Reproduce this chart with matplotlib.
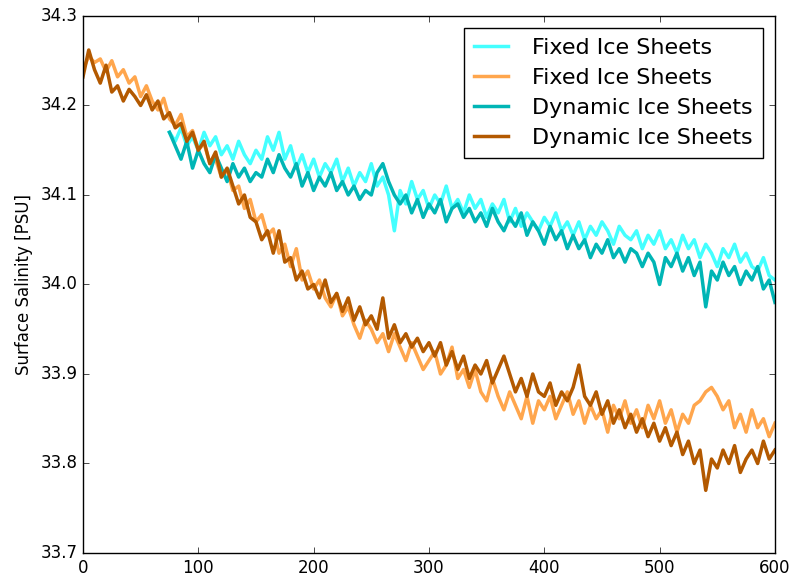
import numpy as np
import matplotlib
matplotlib.use("Agg")
import matplotlib.pyplot as plt

plt.style.use('classic')

# model years (5-year samples)
years_full = np.arange(0, 601, 5)
years_dyn = np.arange(75, 601, 5)

# Fixed Ice Sheets, cyan run (starts at year 75)
fixed_cyan = [
    34.170, 34.160, 34.175, 34.155, 34.165, 34.150, 34.170, 34.155, 34.165, 34.145,
    34.155, 34.140, 34.160, 34.145, 34.135, 34.150, 34.140, 34.165, 34.150, 34.170,
    34.140, 34.155, 34.130, 34.145, 34.125, 34.140, 34.120, 34.135, 34.125, 34.140,
    34.115, 34.130, 34.110, 34.125, 34.115, 34.135, 34.110, 34.120, 34.100, 34.060,
    34.105, 34.090, 34.115, 34.095, 34.105, 34.085, 34.100, 34.090, 34.110, 34.085,
    34.095, 34.080, 34.100, 34.085, 34.095, 34.075, 34.090, 34.080, 34.095, 34.070,
    34.085, 34.065, 34.080, 34.070, 34.060, 34.075, 34.065, 34.080, 34.060, 34.070,
    34.055, 34.070, 34.050, 34.065, 34.055, 34.070, 34.060, 34.045, 34.065, 34.055,
    34.050, 34.060, 34.040, 34.055, 34.045, 34.060, 34.040, 34.050, 34.035, 34.055,
    34.040, 34.050, 34.030, 34.045, 34.035, 34.020, 34.040, 34.030, 34.045, 34.025,
    34.035, 34.020, 34.015, 34.030, 34.010, 34.005,
]

# Fixed Ice Sheets, orange run
fixed_orange = [
    34.240, 34.255, 34.248, 34.252, 34.238, 34.250, 34.232, 34.240, 34.225, 34.232,
    34.210, 34.222, 34.205, 34.195, 34.208, 34.185, 34.178, 34.190, 34.165, 34.172,
    34.150, 34.158, 34.135, 34.140, 34.120, 34.128, 34.105, 34.110, 34.085, 34.095,
    34.070, 34.078, 34.055, 34.062, 34.035, 34.045, 34.020, 34.040, 34.005, 34.015,
    33.995, 34.005, 33.985, 33.975, 33.990, 33.965, 33.975, 33.955, 33.940, 33.960,
    33.950, 33.935, 33.945, 33.925, 33.945, 33.930, 33.915, 33.935, 33.920, 33.905,
    33.915, 33.925, 33.900, 33.910, 33.930, 33.895, 33.905, 33.885, 33.905, 33.880,
    33.870, 33.895, 33.875, 33.860, 33.880, 33.865, 33.850, 33.875, 33.845, 33.870,
    33.860, 33.875, 33.850, 33.865, 33.880, 33.855, 33.870, 33.845, 33.865, 33.850,
    33.860, 33.835, 33.865, 33.850, 33.870, 33.845, 33.860, 33.840, 33.865, 33.850,
    33.870, 33.845, 33.860, 33.835, 33.855, 33.845, 33.865, 33.870, 33.880, 33.885,
    33.875, 33.860, 33.870, 33.840, 33.855, 33.835, 33.860, 33.840, 33.850, 33.830,
    33.845,
]

# Dynamic Ice Sheets, teal run (starts at year 75)
dynamic_teal = [
    34.170, 34.155, 34.140, 34.160, 34.130, 34.150, 34.135, 34.125, 34.145, 34.130,
    34.115, 34.135, 34.120, 34.130, 34.115, 34.125, 34.120, 34.140, 34.125, 34.145,
    34.130, 34.120, 34.135, 34.110, 34.125, 34.105, 34.120, 34.110, 34.125, 34.105,
    34.115, 34.100, 34.110, 34.095, 34.105, 34.100, 34.125, 34.135, 34.115, 34.100,
    34.090, 34.100, 34.080, 34.095, 34.075, 34.090, 34.080, 34.095, 34.070, 34.085,
    34.090, 34.075, 34.085, 34.070, 34.080, 34.065, 34.085, 34.070, 34.060, 34.075,
    34.065, 34.080, 34.055, 34.070, 34.060, 34.045, 34.065, 34.050, 34.060, 34.040,
    34.055, 34.040, 34.050, 34.030, 34.045, 34.035, 34.050, 34.030, 34.040, 34.025,
    34.040, 34.035, 34.020, 34.035, 34.025, 34.000, 34.030, 34.020, 34.035, 34.015,
    34.030, 34.010, 34.025, 33.975, 34.015, 34.005, 34.025, 34.010, 34.020, 34.000,
    34.015, 34.005, 34.020, 33.995, 34.005, 33.980,
]

# Dynamic Ice Sheets, brown run
dynamic_brown = [
    34.232, 34.262, 34.240, 34.225, 34.245, 34.215, 34.222, 34.205, 34.218, 34.210,
    34.200, 34.212, 34.195, 34.205, 34.185, 34.192, 34.175, 34.180, 34.160, 34.170,
    34.150, 34.160, 34.135, 34.148, 34.120, 34.130, 34.110, 34.090, 34.100, 34.075,
    34.070, 34.050, 34.060, 34.035, 34.060, 34.025, 34.030, 34.005, 34.015, 33.995,
    34.000, 33.985, 34.005, 33.980, 33.990, 33.970, 33.985, 33.960, 33.975, 33.955,
    33.965, 33.950, 33.985, 33.940, 33.955, 33.935, 33.945, 33.930, 33.940, 33.925,
    33.935, 33.920, 33.935, 33.910, 33.925, 33.905, 33.920, 33.895, 33.910, 33.900,
    33.915, 33.890, 33.905, 33.920, 33.900, 33.880, 33.895, 33.875, 33.900, 33.880,
    33.875, 33.890, 33.865, 33.880, 33.870, 33.885, 33.910, 33.875, 33.865, 33.880,
    33.855, 33.870, 33.845, 33.860, 33.840, 33.855, 33.835, 33.850, 33.830, 33.845,
    33.825, 33.840, 33.820, 33.835, 33.810, 33.825, 33.800, 33.815, 33.770, 33.805,
    33.795, 33.815, 33.800, 33.820, 33.790, 33.805, 33.815, 33.800, 33.825, 33.805,
    33.815,
]

labels = ['Fixed Ice Sheets', 'Fixed Ice Sheets', 'Dynamic Ice Sheets', 'Dynamic Ice Sheets']
colors = ['#44FFFF', '#FFA64D', '#00B5B5', '#B35900']

fig = plt.figure(figsize=(7.94, 5.79), dpi=100, facecolor='white')
ax = fig.add_axes([0.1045, 0.0449, 0.8715, 0.9275])

ax.plot(years_dyn, fixed_cyan, color=colors[0], lw=2.5, label=labels[0])
ax.plot(years_full, fixed_orange, color=colors[1], lw=2.5, label=labels[1])
ax.plot(years_dyn, dynamic_teal, color=colors[2], lw=2.5, label=labels[2])
ax.plot(years_full, dynamic_brown, color=colors[3], lw=2.5, label=labels[3])

ax.set_xlim(0, 600)
ax.set_ylim(33.7, 34.3)
ax.set_xticks(np.arange(0, 601, 100))
ax.set_yticks(np.arange(33.7, 34.31, 0.1))
ax.yaxis.set_major_formatter(matplotlib.ticker.FormatStrFormatter('%.1f'))
ax.tick_params(labelsize=12)
ax.set_ylabel('Surface Salinity [PSU]', fontsize=12)

leg = ax.legend(loc='upper right', fontsize=16, fancybox=False, numpoints=1,
                handlelength=1.5, handletextpad=1.1, labelspacing=0.45,
                borderaxespad=0.55, borderpad=0.45)
leg.get_frame().set_linewidth(1.0)

fig.savefig('out.png', dpi=100, facecolor='white')
